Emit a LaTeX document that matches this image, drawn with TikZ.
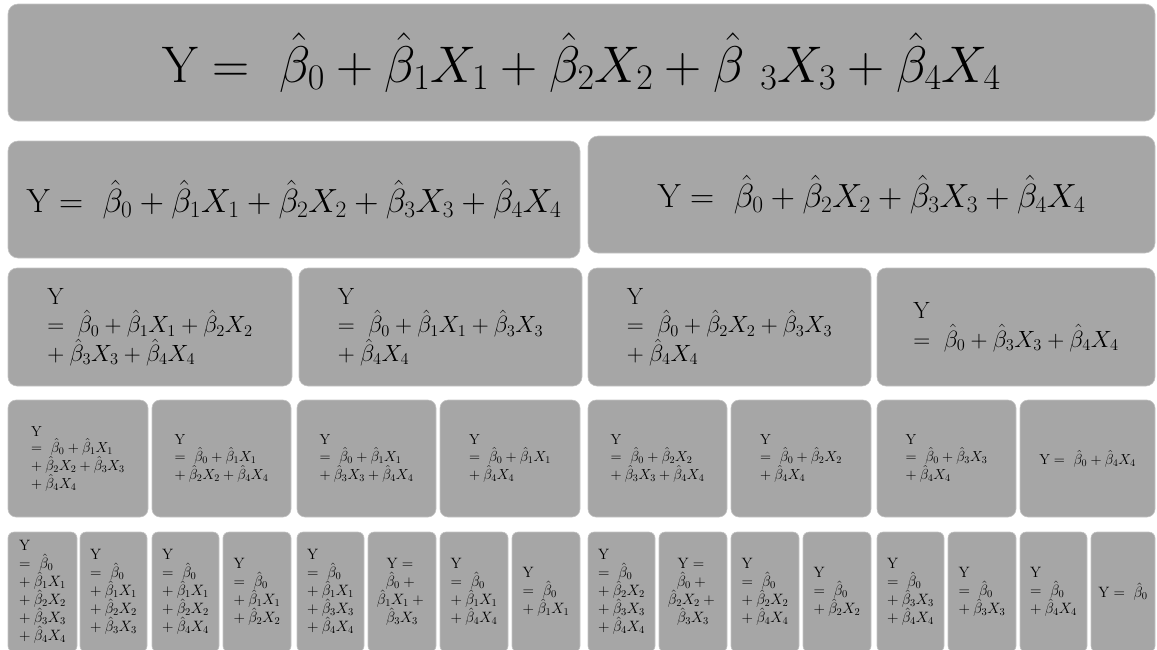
\RequirePackage{fix-cm}
\documentclass[tikz,border=0pt]{standalone}
\definecolor{boxgray}{RGB}{166,166,166}
\definecolor{boxedge}{RGB}{196,196,196}
\newcommand\mybx[1]{\hat{\beta}_{#1}X_{#1}}
\newcommand\mybh{\hat{\beta}_0}
\newcommand\myeq{=\ \mybh}
\newcommand\myp{+\:}
\tikzset{
 card/.style={fill=boxgray, draw=boxedge, line width=0.6pt, inner sep=0pt, align=left, text=black},
 big/.style={card, rounded corners=10pt, font=\fontsize{51.5}{60}\selectfont},
 mid/.style={card, rounded corners=10pt, font=\fontsize{33.5}{40}\selectfont},
 rthree/.style={card, rounded corners=9pt, minimum height=118pt, font=\fontsize{23.5}{28.5}\selectfont},
 rfour/.style={card, rounded corners=8pt, minimum height=117pt, font=\fontsize{14.5}{16.5}\selectfont},
 rfive/.style={card, rounded corners=6pt, minimum height=120pt, font=\fontsize{15}{18}\selectfont},
}
\begin{document}
\begin{tikzpicture}[x=1pt,y=-1pt]
\useasboundingbox (0,0) rectangle (1157,649);
% row 1
\node[big, minimum width=1147pt, minimum height=117pt] (r1) at (581.5,62.5)
  {$\mathrm{Y}=\ \mybh+\mybx1+\mybx2+\hat{\beta}\ {}_3X_3+\mybx4$};
% row 2
\node[mid, minimum width=572pt, minimum height=117pt] (r2a) at (294,199.5)
  {$\mathrm{Y}=\ \mybh+\mybx1+\mybx2+\mybx3+\mybx4$};
\node[mid, minimum width=567pt, minimum height=117pt] (r2b) at (871.5,194.5)
  {$\mathrm{Y}=\ \mybh+\mybx2+\mybx3+\mybx4$};
% row 3
\node[rthree, minimum width=284pt] (r3a) at (150,327)
  {$\mathrm{Y}$\\ $\myeq+\mybx1+\mybx2$\\ $\myp\mybx3+\mybx4$};
\node[rthree, minimum width=283pt] (r3b) at (440.5,327)
  {$\mathrm{Y}$\\ $\myeq+\mybx1+\mybx3$\\ $\myp\mybx4$};
\node[rthree, minimum width=283pt] (r3c) at (729.5,327)
  {$\mathrm{Y}$\\ $\myeq+\mybx2+\mybx3$\\ $\myp\mybx4$};
\node[rthree, minimum width=278pt] (r3d) at (1016,327)
  {$\mathrm{Y}$\\ $\myeq+\mybx3+\mybx4$};
% row 4
\node[rfour, minimum width=140pt] (r4a) at (78,458.5)
  {$\mathrm{Y}$\\ $\myeq+\mybx1$\\ $\myp\mybx2+\mybx3$\\ $\myp\mybx4$};
\node[rfour, minimum width=139pt] (r4b) at (221.5,458.5)
  {$\mathrm{Y}$\\ $\myeq+\mybx1$\\ $\myp\mybx2+\mybx4$};
\node[rfour, minimum width=139pt] (r4c) at (366.5,458.5)
  {$\mathrm{Y}$\\ $\myeq+\mybx1$\\ $\myp\mybx3+\mybx4$};
\node[rfour, minimum width=140pt] (r4d) at (510,458.5)
  {$\mathrm{Y}$\\ $\myeq+\mybx1$\\ $\myp\mybx4$};
\node[rfour, minimum width=139pt] (r4e) at (657.5,458.5)
  {$\mathrm{Y}$\\ $\myeq+\mybx2$\\ $\myp\mybx3+\mybx4$};
\node[rfour, minimum width=140pt] (r4f) at (801,458.5)
  {$\mathrm{Y}$\\ $\myeq+\mybx2$\\ $\myp\mybx4$};
\node[rfour, minimum width=139pt] (r4g) at (946.5,458.5)
  {$\mathrm{Y}$\\ $\myeq+\mybx3$\\ $\myp\mybx4$};
\node[rfour, minimum width=135pt] (r4h) at (1087.5,458.5)
  {$\mathrm{Y}=\ \mybh+\mybx4$};
% row 5
\node[rfive, minimum width=69pt] (r5a) at (42.5,592)
  {$\mathrm{Y}$\\ $\myeq$\\ $\myp\mybx1$\\ $\myp\mybx2$\\ $\myp\mybx3$\\ $\myp\mybx4$};
\node[rfive, minimum width=67pt] (r5b) at (113.5,592)
  {$\mathrm{Y}$\\ $\myeq$\\ $\myp\mybx1$\\ $\myp\mybx2$\\ $\myp\mybx3$};
\node[rfive, minimum width=67pt] (r5c) at (185.5,592)
  {$\mathrm{Y}$\\ $\myeq$\\ $\myp\mybx1$\\ $\myp\mybx2$\\ $\myp\mybx4$};
\node[rfive, minimum width=68pt] (r5d) at (257,592)
  {$\mathrm{Y}$\\ $\myeq$\\ $\myp\mybx1$\\ $\myp\mybx2$};
\node[rfive, minimum width=67pt] (r5e) at (330.5,592)
  {$\mathrm{Y}$\\ $\myeq$\\ $\myp\mybx1$\\ $\myp\mybx3$\\ $\myp\mybx4$};
\node[rfive, minimum width=68pt, align=center] (r5f) at (402,592)
  {$\mathrm{Y}={}$\\ $\mybh+{}$\\ $\mybx1+{}$\\ $\mybx3$};
\node[rfive, minimum width=68pt] (r5g) at (474,592)
  {$\mathrm{Y}$\\ $\myeq$\\ $\myp\mybx1$\\ $\myp\mybx4$};
\node[rfive, minimum width=68pt] (r5h) at (546,592)
  {$\mathrm{Y}$\\ $\myeq$\\ $\myp\mybx1$};
\node[rfive, minimum width=67pt] (r5i) at (621.5,592)
  {$\mathrm{Y}$\\ $\myeq$\\ $\myp\mybx2$\\ $\myp\mybx3$\\ $\myp\mybx4$};
\node[rfive, minimum width=68pt, align=center] (r5j) at (693,592)
  {$\mathrm{Y}={}$\\ $\mybh+{}$\\ $\mybx2+{}$\\ $\mybx3$};
\node[rfive, minimum width=68pt] (r5k) at (765,592)
  {$\mathrm{Y}$\\ $\myeq$\\ $\myp\mybx2$\\ $\myp\mybx4$};
\node[rfive, minimum width=68pt] (r5l) at (837,592)
  {$\mathrm{Y}$\\ $\myeq$\\ $\myp\mybx2$};
\node[rfive, minimum width=67pt] (r5m) at (910.5,592)
  {$\mathrm{Y}$\\ $\myeq$\\ $\myp\mybx3$\\ $\myp\mybx4$};
\node[rfive, minimum width=68pt] (r5n) at (982,592)
  {$\mathrm{Y}$\\ $\myeq$\\ $\myp\mybx3$};
\node[rfive, minimum width=67pt] (r5o) at (1053.5,592)
  {$\mathrm{Y}$\\ $\myeq$\\ $\myp\mybx4$};
\node[rfive, minimum width=64pt] (r5p) at (1123,592)
  {$\mathrm{Y}=\ \mybh$};
\end{tikzpicture}
\end{document}
